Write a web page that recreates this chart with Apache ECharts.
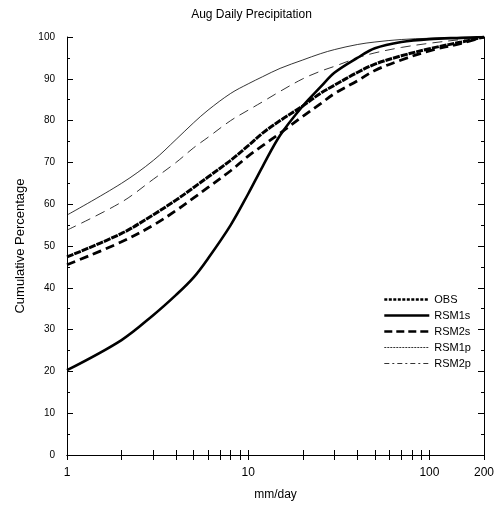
<!DOCTYPE html>
<html>
<head>
<meta charset="utf-8">
<script src="https://cdn.jsdelivr.net/npm/echarts@6/dist/echarts.min.js"></script>
<style>html,body{margin:0;padding:0;background:#fff}#c{width:503px;height:507px}</style>
</head>
<body>
<div id="c"></div>
<script>
var precip = [1,2,3,4,5,6,8,10,12,15,20,25,30,40,50,70,100,150,200];
var OBS   = [47.4,53,57.5,61,64,66.5,70.5,74,77,80,83.5,86.5,88.5,91.5,93.5,95.5,97.2,98.8,100];
var RSM1s = [20.3,27.5,33.5,38.3,42.5,47,55,62.5,69,76.5,83.5,88,91.5,95,97.3,98.8,99.5,99.8,100];
var RSM2s = [45.5,51,55,58.5,61.5,64,68,71.5,74,77,81,84,86.5,89.5,92,94.5,96.7,98.5,100];
var RSM1p = [57.4,65,70.5,75.5,79.5,82.5,86.5,88.8,90.5,92.5,94.5,96,97,98.2,98.8,99.4,99.7,99.9,100];
var RSM2p = [53.8,60.5,66,70,73.5,76,80,82.5,84.5,87,90,91.8,93,95,96.2,97.5,98.5,99.4,100];
var xTickValues = [1,2,3,4,5,6,7,8,9,10,20,30,40,50,60,70,80,90,100,200];
var xLabelValues = [1,10,100,200];
var yTickLabels = [0,10,20,30,40,50,60,70,80,90,100];

function pairs(ys){ return precip.map(function(x,i){ return [x, ys[i]]; }); }

var font = 'Liberation Sans, Arial, Helvetica, sans-serif';
var chart = echarts.init(document.getElementById('c'), null, {renderer:'canvas'});

function mkSeries(name, ys, width, type){
  return {
    name: name, type: 'line', data: pairs(ys), symbol: 'none', showSymbol: false,
    smooth: 0.35, xAxisIndex: 0, yAxisIndex: 0,
    lineStyle: {color: '#000', width: width, type: type},
    itemStyle: {color: '#000'}, z: 3, animation: false
  };
}

var xCommon = {
  type: 'log', logBase: 10, min: 1, max: 200,
  axisLine: {show: true, lineStyle: {color: '#000', width: 1}},
  axisTick: {show: true, inside: true, length: 5, customValues: xTickValues, lineStyle: {color: '#000', width: 1}},
  splitLine: {show: false}, minorTick: {show: false}
};
var yCommon = {
  type: 'value', min: 0, max: 100, interval: 10,
  axisLine: {show: true, lineStyle: {color: '#000', width: 1}},
  axisTick: {show: true, inside: true, length: 6, lineStyle: {color: '#000', width: 1}},
  minorTick: {show: true, splitNumber: 2, length: 3, lineStyle: {color: '#000', width: 1}},
  splitLine: {show: false}
};

function legendItem(name, width, type){
  return {name: name, itemStyle: {opacity: 0}, lineStyle: {color: '#000', width: width, type: type}};
}

chart.setOption({
  animation: false,
  backgroundColor: '#fff',
  title: {
    text: 'Aug Daily Precipitation', left: 'center', top: 4,
    textStyle: {fontFamily: font, fontSize: 12, fontWeight: 'normal', color: '#000'}
  },
  grid: {left: 67, right: 19, top: 37, bottom: 52},
  legend: {
    orient: 'vertical', left: 378, top: 289,
    itemWidth: 45, itemHeight: 12, itemGap: 5,
    textStyle: {fontFamily: font, fontSize: 11, color: '#000'},
    data: [
      legendItem('OBS', 2.5, [3, 1.5]),
      legendItem('RSM1s', 2.6, 'solid'),
      legendItem('RSM2s', 2.6, [8, 4]),
      legendItem('RSM1p', 0.8, [2, 1]),
      legendItem('RSM2p', 0.8, [5, 3, 2, 3])
    ]
  },
  xAxis: [
    Object.assign({}, xCommon, {
      position: 'bottom',
      name: 'mm/day', nameLocation: 'middle', nameGap: 34,
      nameTextStyle: {fontFamily: font, fontSize: 12, color: '#000'},
      axisLabel: {show: true, customValues: xLabelValues, margin: 12,
        fontFamily: font, fontSize: 12, color: '#000',
        formatter: function(v){ return String(Math.round(v)); }}
    }),
    Object.assign({}, xCommon, {position: 'top', axisLabel: {show: false}})
  ],
  yAxis: [
    Object.assign({}, yCommon, {
      position: 'left',
      name: 'Cumulative Percentage', nameLocation: 'middle', nameGap: 38,
      nameTextStyle: {fontFamily: font, fontSize: 13, color: '#000'},
      axisLabel: {show: true, margin: 12, fontFamily: font, fontSize: 10, color: '#000',
        formatter: function(v){ return yTickLabels.indexOf(v) >= 0 ? String(v) : ''; }}
    }),
    Object.assign({}, yCommon, {position: 'right', axisLabel: {show: false}})
  ],
  series: [
    mkSeries('OBS', OBS, 3, [7, 1]),
    mkSeries('RSM1s', RSM1s, 2.6, 'solid'),
    mkSeries('RSM2s', RSM2s, 2.8, [9, 5]),
    mkSeries('RSM1p', RSM1p, 0.8, 'solid'),
    mkSeries('RSM2p', RSM2p, 0.8, [10, 6])
  ]
});
</script>
</body>
</html>
